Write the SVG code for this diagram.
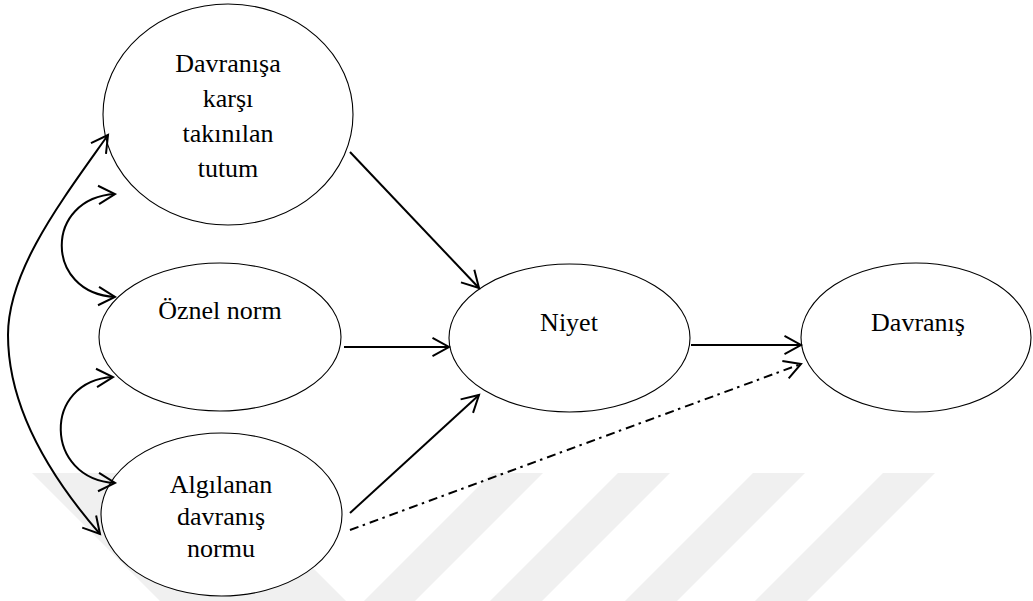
<svg xmlns="http://www.w3.org/2000/svg" width="1033" height="601" viewBox="0 0 1033 601">
  <style>
    .node ellipse { fill: #ffffff; stroke: #000000; stroke-width: 1.1; }
    .node text { font-family: 'Liberation Serif', 'DejaVu Serif', serif; font-size: 26px; text-anchor: middle; fill: #000000; }
    .conn { fill: none; stroke: #000000; stroke-width: 2; marker-end: url(#arrow); }
    .both { marker-start: url(#arrow); }
    .dashdot { stroke-dasharray: 9 4.5 2.5 5; }
    .mark { fill: #f0f0f0; }
  </style>
  <defs>
    <!-- open V arrowhead, tip at the path end -->
    <marker id="arrow" viewBox="0 0 20 20" refX="17" refY="10" markerWidth="20" markerHeight="20"
            markerUnits="userSpaceOnUse" orient="auto-start-reverse" overflow="visible">
      <path d="M0.5,0.8 L17,10 L0.5,19.2" fill="none" stroke="#000000" stroke-width="2" stroke-dasharray="none"/>
    </marker>
  </defs>

  <rect width="1033" height="601" fill="#ffffff"/>

  <!-- faint background stripes -->
  <g id="background-stripes">
    <polygon class="mark" points="32,473 218,473 346,601 160,601"/>
    <polygon class="mark" points="492,473 543,473 415,601 364,601"/>
    <polygon class="mark" points="618,473 670,473 542,601 490,601"/>
    <polygon class="mark" points="753,473 805,473 677,601 625,601"/>
    <polygon class="mark" points="883,473 935,473 807,601 755,601"/>
  </g>

  <g id="node-tutum" class="node">
    <ellipse cx="228" cy="114.5" rx="125" ry="110.5"/>
    <text x="228" y="72" font-family="Liberation Serif, serif">Davranışa</text>
    <text x="228" y="107" font-family="Liberation Serif, serif">karşı</text>
    <text x="228" y="142" font-family="Liberation Serif, serif">takınılan</text>
    <text x="228" y="177" font-family="Liberation Serif, serif">tutum</text>
  </g>

  <g id="node-oznel-norm" class="node">
    <ellipse cx="220" cy="337" rx="121" ry="74"/>
    <text x="220" y="319" font-family="Liberation Serif, serif">Öznel norm</text>
  </g>

  <g id="node-algilanan" class="node">
    <ellipse cx="221.5" cy="514.5" rx="120.5" ry="81.5"/>
    <text x="221" y="493" font-family="Liberation Serif, serif">Algılanan</text>
    <text x="221" y="525" font-family="Liberation Serif, serif">davranış</text>
    <text x="221" y="557" font-family="Liberation Serif, serif">normu</text>
  </g>

  <g id="node-niyet" class="node">
    <ellipse cx="569.5" cy="338" rx="120.5" ry="74"/>
    <text x="569" y="331" font-family="Liberation Serif, serif">Niyet</text>
  </g>

  <g id="node-davranis" class="node">
    <ellipse cx="916" cy="337.5" rx="115" ry="74.5"/>
    <text x="918" y="331" font-family="Liberation Serif, serif">Davranış</text>
  </g>

  <g id="connectors">
    <path class="conn" d="M350,152 L479,288"/>
    <path class="conn" d="M344,347 L449,347"/>
    <path class="conn" d="M350,513 L479,395"/>
    <path class="conn" d="M691,345 L801,345"/>
    <path class="conn dashdot" d="M350,530 L801,364"/>
    <!-- correlations between the three predictors -->
    <path class="conn both" d="M115,194 C44,198 44,293 115,297"/>
    <path class="conn both" d="M113,377 C42,381 44,479 115,483"/>
    <path class="conn both" d="M108,135 C62,200 8,270 8,335 C8,400 40,465 100,534"/>
  </g>
</svg>
